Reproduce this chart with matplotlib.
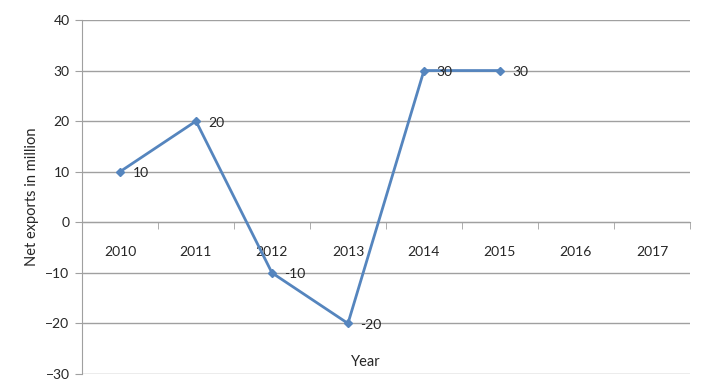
import matplotlib
matplotlib.use("Agg")
import matplotlib.pyplot as plt
from matplotlib.ticker import FixedLocator

years = ["2010", "2011", "2012", "2013", "2014", "2015", "2016", "2017"]
net_exports = [10, 20, -10, -20, 30, 30]
y_ticks = [-30, -20, -10, 0, 10, 20, 30, 40]

plt.rcParams['font.family'] = ['Lato', 'DejaVu Sans']
line_col = '#5585BE'
grid_col = '#A0A0A0'
text_col = '#262626'

fig = plt.figure(figsize=(7.02, 3.87), dpi=100)
ax = fig.add_axes([0.1168, 0.0336, 0.866, 0.9148])

xs = list(range(len(net_exports)))
ax.plot(xs, net_exports, color=line_col, linewidth=2, marker='D',
        markersize=4.5, zorder=3)
for x, v in zip(xs, net_exports):
    ax.annotate(str(v), (x, v), xytext=(9, -1), textcoords='offset points',
                ha='left', va='center', fontsize=10, color=text_col)

ax.set_xlim(-0.5, len(years) - 0.5)
ax.set_ylim(-30, 40)
ax.set_yticks(y_ticks)
ax.yaxis.grid(True, color=grid_col, linewidth=1)
ax.set_axisbelow(True)

# x axis sits at zero, labels between tick marks
ax.spines['bottom'].set_position(('data', 0))
ax.spines['bottom'].set_color(grid_col)
ax.spines['left'].set_color(grid_col)
ax.spines['top'].set_visible(False)
ax.spines['right'].set_visible(False)
ax.set_xticks(range(len(years)))
ax.set_xticklabels(years, fontsize=10, color=text_col)
ax.tick_params(axis='x', which='major', length=0, pad=17)
ax.xaxis.set_minor_locator(FixedLocator([i - 0.5 for i in range(len(years) + 1)]))
ax.tick_params(axis='x', which='minor', length=5, direction='out', color=grid_col)
ax.tick_params(axis='y', length=5, color=grid_col, labelsize=10,
               labelcolor=text_col, pad=4)

ax.set_ylabel("Net exports in million", fontsize=10.5, color=text_col)
ax.yaxis.set_label_coords(-0.07, 0.5)
ax.text(0.466, 0.034, "Year", transform=ax.transAxes, ha='center',
        va='center', fontsize=10.5, color=text_col)

fig.savefig("out.png", dpi=100)
